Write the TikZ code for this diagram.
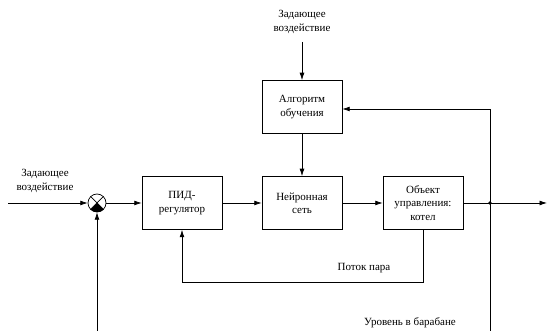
\documentclass[tikz,border=0pt]{standalone}
\usepackage{fontspec}
\setmainfont{Liberation Serif}
\usetikzlibrary{arrows.meta}
\tikzset{>={Latex[length=2.6mm,width=1.7mm]}}
\tikzset{block/.style={draw, line width=0.7pt, minimum width=80pt, minimum height=53pt, align=center, inner sep=1pt}}
\tikzset{lbl/.style={align=center, inner sep=0pt}}

\begin{document}
\begin{tikzpicture}[x=1pt, y=1pt, line width=0.7pt, font=\fontsize{11}{13.3}\selectfont]
    \useasboundingbox (0,0) rectangle (547,331);
    %blocks
    \node[block] (pid) at (182,128) {ПИД-\\регулятор};
    \node[block] (net) at (302,128) {Нейронная\\сеть};
    \node[block] (obj) at (423,128) {Объект\\управления:\\котел};
    \node[block] (alg) at (302,224) {Алгоритм\\обучения};
    %summing junction
    \node[draw, circle, minimum size=18pt, inner sep=0pt] (sum) at (97,128) {};
    \fill (sum.center) -- (sum.-45) arc (-45:-135:9pt) -- cycle;
    \draw (sum.45) -- (sum.-135);
    \draw (sum.135) -- (sum.-45);
    %free ends
    \coordinate (in) at (8,128);
    \coordinate (top) at (302,289);
    \coordinate (out) at (547,128);
    \coordinate (split) at (490,128);
    \coordinate (rb) at (490,0);
    \coordinate (rt) at (490,222);
    \coordinate (lb) at (97,0);
    \fill (split) circle (1.8pt);
    %connectors
    \draw[->] (in) -- (sum);
    \draw[->] (sum) -- (pid);
    \draw[->] (pid) -- (net);
    \draw[->] (net) -- (obj);
    \draw[->] (obj) -- (out);
    \draw[->] (top) -- (alg);
    \draw[->] (alg) -- (net);
    \draw[->] (lb) -- (sum);
    \draw[->] (rb) -- (rt) -- (rt -| alg.east);
    \draw[->] (obj.south) -- ++(0,-53) -| (pid.south);
    %labels
    \node[lbl] (ref1) at (45,150) {Задающее\\воздействие};
    \node[lbl] (ref2) at (302,309) {Задающее\\воздействие};
    \node[lbl] (steam) at (364,63) {Поток пара};
    \node[lbl] (level) at (410,8) {Уровень в барабане};
\end{tikzpicture}
\end{document}
